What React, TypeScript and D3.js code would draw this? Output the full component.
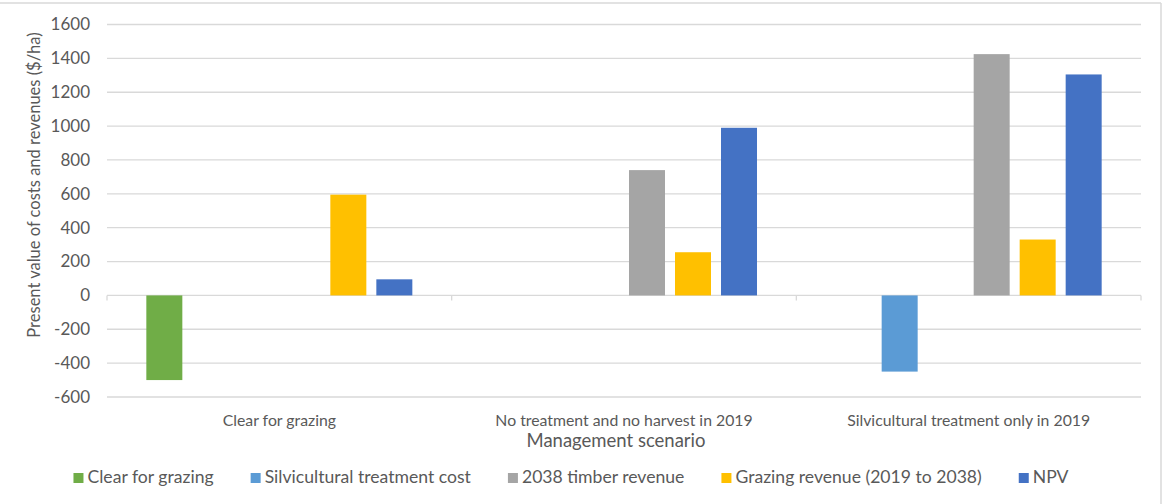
import { useEffect, useRef } from "react";
import * as d3 from "d3";

// data
const categories = [
  "Clear for grazing",
  "No treatment and no harvest in 2019",
  "Silvicultural treatment only in 2019",
];

// six bar slots per group; the third slot holds an empty series with no legend entry
const seriesNames = [
  "Clear for grazing",
  "Silvicultural treatment cost",
  "",
  "2038 timber revenue",
  "Grazing revenue (2019 to 2038)",
  "NPV",
];
const clearForGrazing = [-500, null, null];
const silviculturalCost = [null, null, -450];
const emptySeries = [null, null, null];
const timberRevenue = [null, 740, 1425];
const grazingRevenue = [595, 255, 330];
const npv = [95, 990, 1305];

const seriesValues = [
  clearForGrazing,
  silviculturalCost,
  emptySeries,
  timberRevenue,
  grazingRevenue,
  npv,
];
const seriesColors = ["#70AD47", "#5B9BD5", "#ED7D31", "#A5A5A5", "#FFC000", "#4472C4"];

const yTicks = [-600, -400, -200, 0, 200, 400, 600, 800, 1000, 1200, 1400, 1600];

const yTitle = "Present value of costs and revenues ($/ha)";
const xTitle = "Management scenario";

const FONT = "Lato, 'Open Sans', sans-serif";
const TEXT = "#595959";
const GRID = "#D9D9D9";

export default function App() {
  const axesRef = useRef<SVGGElement>(null);
  const legendRef = useRef<SVGGElement>(null);

  const width = 1163;
  const height = 504;
  const plot = { left: 107, right: 1141, top: 24.5, bottom: 397 };

  const xScale = d3
    .scaleBand<string>()
    .domain(categories)
    .range([plot.left, plot.right])
    .padding(0);

  const innerScale = d3
    .scaleBand<number>()
    .domain(d3.range(seriesNames.length))
    .range([0, xScale.bandwidth()])
    .paddingInner(10 / 46)
    .paddingOuter(0.855);

  const yScale = d3
    .scaleLinear()
    .domain([-600, 1600])
    .range([plot.bottom, plot.top]);

  useEffect(() => {
    const g = d3.select(axesRef.current);
    g.selectAll("*").remove();

    // y tick labels
    const yAxis = d3
      .axisLeft(yScale)
      .tickValues(yTicks)
      .tickSize(0)
      .tickPadding(0)
      .tickFormat((d) => String(d));
    const ya = g
      .append("g")
      .attr("transform", `translate(${plot.left - 17},0)`)
      .call(yAxis);
    ya.select(".domain").remove();
    ya.selectAll("text")
      .attr("fill", TEXT)
      .style("font-family", FONT)
      .style("font-size", "17px");

    // category ticks on the zero line
    const bounds = [...categories.map((c) => xScale(c) as number), plot.right];
    g.selectAll(".cat-tick")
      .data(bounds)
      .join("line")
      .attr("class", "cat-tick")
      .attr("x1", (d) => d)
      .attr("x2", (d) => d)
      .attr("y1", yScale(0))
      .attr("y2", yScale(0) + 5)
      .attr("stroke", GRID)
      .attr("stroke-width", 1.3);

    // legend, laid out in a row from measured text widths
    const lg = d3.select(legendRef.current);
    lg.selectAll("*").remove();
    const items = seriesNames
      .map((name, i) => ({ name, color: seriesColors[i] }))
      .filter((d) => d.name !== "");
    const entries = lg
      .selectAll("g")
      .data(items)
      .join("g");
    entries
      .append("rect")
      .attr("width", 10)
      .attr("height", 10)
      .attr("fill", (d) => d.color);
    entries
      .append("text")
      .attr("x", 14)
      .attr("y", 10)
      .attr("fill", TEXT)
      .style("font-family", FONT)
      .style("font-size", "17.6px")
      .text((d) => d.name);
    const widths: number[] = [];
    entries.each(function () {
      const t = d3.select(this).select("text").node() as SVGTextElement;
      widths.push(14 + t.getComputedTextLength());
    });
    const gap = 37;
    const total = d3.sum(widths) + gap * (widths.length - 1);
    let x = 571 - total / 2;
    entries.attr("transform", (_, i) => {
      const tx = x;
      x += widths[i] + gap;
      return `translate(${tx},473)`;
    });
  }, []);

  return (
    <svg
      width={width}
      height={height}
      style={{ position: "absolute", left: 0, top: 0, background: "#fff" }}
      fontFamily={FONT}
    >
      {/* chart frame (top and right edges visible) */}
      <line x1={0} x2={1161} y1={3} y2={3} stroke={GRID} strokeWidth={1.5} />
      <line x1={1161} x2={1161} y1={3} y2={height} stroke={GRID} strokeWidth={1.5} />

      {/* gridlines */}
      {yTicks.map((t) => (
        <line
          key={t}
          x1={plot.left}
          x2={plot.right}
          y1={yScale(t)}
          y2={yScale(t)}
          stroke={GRID}
          strokeWidth={1.3}
        />
      ))}

      {/* bars */}
      {categories.map((cat, ci) => (
        <g key={cat} transform={`translate(${xScale(cat)},0)`}>
          {seriesValues.map((vals, si) => {
            const v = vals[ci];
            if (v === null || v === undefined) return null;
            return (
              <rect
                key={si}
                x={innerScale(si)}
                width={innerScale.bandwidth()}
                y={yScale(Math.max(0, v))}
                height={Math.abs(yScale(v) - yScale(0))}
                fill={seriesColors[si]}
              />
            );
          })}
        </g>
      ))}

      <g ref={axesRef} />

      {/* category labels */}
      {categories.map((cat) => (
        <text
          key={cat}
          x={(xScale(cat) as number) + xScale.bandwidth() / 2}
          y={426}
          textAnchor="middle"
          fill={TEXT}
          fontSize={15.8}
        >
          {cat}
        </text>
      ))}

      {/* axis titles */}
      <text x={616} y={447} textAnchor="middle" fill={TEXT} fontSize={18.5}>
        {xTitle}
      </text>
      <text
        transform={`translate(40,185) rotate(-90)`}
        textAnchor="middle"
        fill={TEXT}
        fontSize={16.5}
      >
        {yTitle}
      </text>

      <g ref={legendRef} />
    </svg>
  );
}
